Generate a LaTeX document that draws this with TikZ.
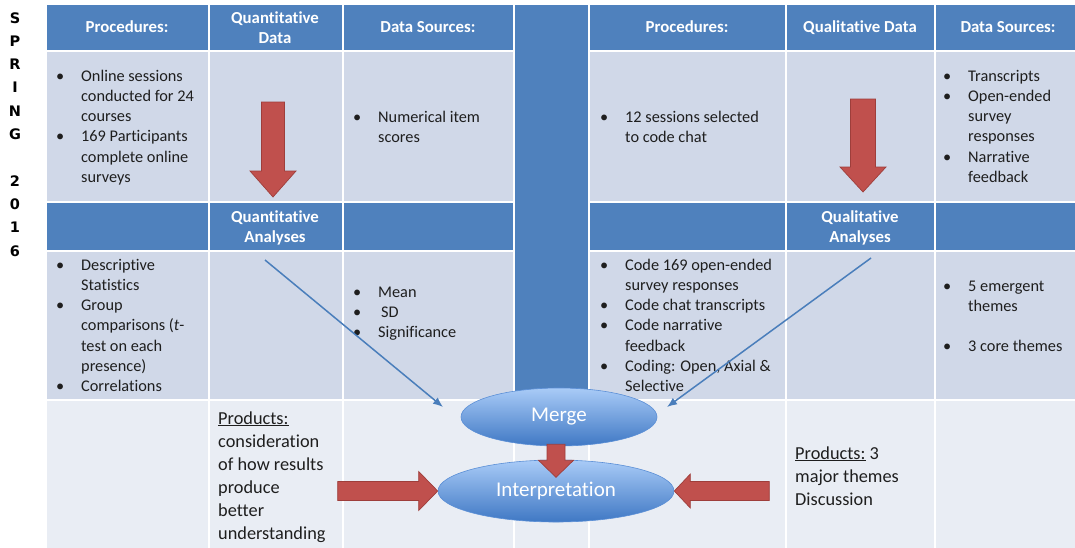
\documentclass[tikz,border=0pt]{standalone}
\usepackage{fontspec}
\setmainfont{Carlito}[Ligatures={NoCommon,NoRequired}]
\newfontfamily\sidefont{DejaVu Sans}[BoldFont={* Bold}]
\usetikzlibrary{shapes.geometric,arrows.meta}

\definecolor{hdrblue}{HTML}{4F81BD}
\definecolor{cellblue}{HTML}{D0D8E8}
\definecolor{paleblue}{HTML}{E9EDF4}
\definecolor{blockred}{HTML}{C0504D}
\definecolor{blockedge}{HTML}{9E3E3B}
\definecolor{ink}{HTML}{1E1E1E}
\definecolor{lineblue}{HTML}{4A7EBB}
\definecolor{ovaltop}{HTML}{A9CBF7}
\definecolor{ovalbot}{HTML}{3F78C4}
\definecolor{ovalrim}{HTML}{5B8FD6}

% bullet list: first column holds the bullet, second the text
\newcommand\bulletlist[2]{\begin{tabular}[t]{@{}p{#1}@{}l@{}}#2\end{tabular}}
\newcommand\itm{\textbullet &}
\newcommand\stacked[1]{\begin{tabular}[t]{@{}c@{}}#1\end{tabular}}
\newcommand\leftlines[1]{\begin{tabular}[t]{@{}l@{}}#1\end{tabular}}

% solid block arrows
\newcommand\blockdown[6]{% centre x, top, head base, tip, shaft half width, head half width
  \filldraw[redblock] (#1-#5,#2) -- (#1+#5,#2) -- (#1+#5,#3) -- (#1+#6,#3)
    -- (#1,#4) -- (#1-#6,#3) -- (#1-#5,#3) -- cycle;}
\newcommand\blockacross[6]{% centre y, tail x, head base x, tip x, shaft half width, head half width
  \filldraw[redblock] (#2,#1-#5) -- (#3,#1-#5) -- (#3,#1-#6) -- (#4,#1)
    -- (#3,#1+#6) -- (#3,#1+#5) -- (#2,#1+#5) -- cycle;}

\begin{document}
\begin{tikzpicture}[x=1pt,y=-1pt,
  gridcell/.style={draw=white,line width=1.4pt},
  redblock/.style={fill=blockred,draw=blockedge,line width=0.7pt,line join=miter},
  body/.style={font=\fontsize{16.3}{20.3}\selectfont,text=ink,inner sep=0pt,anchor=base west},
  head/.style={font=\fontsize{16.8}{20}\selectfont\bfseries,text=white,inner sep=0pt,anchor=base},
  prod/.style={font=\fontsize{18.3}{23}\selectfont,text=ink,inner sep=0pt,anchor=base west},
  side/.style={font=\fontsize{14.5}{23.3}\selectfont\sidefont\bfseries,text=black,inner sep=0pt,anchor=base},
  oval/.style={ellipse,top color=ovaltop,bottom color=ovalbot,draw=ovalrim,line width=0.6pt,
    inner sep=0pt,text=white,font=\fontsize{21}{25}\selectfont},
  flow/.style={draw=lineblue,line width=1.5pt,-{Latex[length=10pt,width=8pt]}}]

\useasboundingbox (0,0) rectangle (1075,547);
\fill[white] (0,0) rectangle (1075,547);

% table cells
\foreach \xa/\xb in {46/209,209/343,343/514,589/786,786/935,935/1090}{
  \filldraw[gridcell,fill=hdrblue]  (\xa,4)   rectangle (\xb,51);
  \filldraw[gridcell,fill=cellblue] (\xa,51)  rectangle (\xb,202);
  \filldraw[gridcell,fill=hdrblue]  (\xa,202) rectangle (\xb,251);
  \filldraw[gridcell,fill=cellblue] (\xa,251) rectangle (\xb,400);
  \filldraw[gridcell,fill=paleblue] (\xa,400) rectangle (\xb,560);
}
\filldraw[gridcell,fill=hdrblue]  (514,4)   rectangle (589,400);
\filldraw[gridcell,fill=paleblue] (514,400) rectangle (589,560);

% semester label
\node[side] (term) at (15,23) {\stacked{S\\P\\R\\I\\N\\G\\ \\2\\0\\1\\6}};

% header rows
\node[head] (hProcL) at (127,32) {Procedures:};
\node[head] (hQuanData) at (275,23) {\stacked{Quantitative\\Data}};
\node[head] (hSrcL) at (428,32) {Data Sources:};
\node[head] (hProcR) at (687,32) {Procedures:};
\node[head] (hQualData) at (860,32) {Qualitative Data};
\node[head] (hSrcR) at (1008,32) {Data Sources:};
\node[head] (hQuanAn) at (275,222) {\stacked{Quantitative\\Analyses}};
\node[head] (hQualAn) at (860,222) {\stacked{Qualitative\\Analyses}};

% data collection row
\node[body] (procL) at (56,81) {\bulletlist{25pt}{%
  \itm Online sessions\\ & conducted for 24\\ & courses\\
  \itm 169 Participants\\ & complete online\\ & surveys}};
\node[body] (srcL) at (353,122) {\bulletlist{25pt}{%
  \itm Numerical item\\ & scores}};
\node[body] (procR) at (600,122) {\bulletlist{25pt}{%
  \itm 12 sessions selected\\ & to code chat}};
\node[body] (srcR) at (943,81) {\bulletlist{25pt}{%
  \itm Transcripts\\ \itm Open-ended\\ & survey\\ & responses\\
  \itm Narrative\\ & feedback}};

% analysis row
\node[body] (anL) at (56,270) {\bulletlist{25pt}{%
  \itm Descriptive\\ & Statistics\\ \itm Group\\ & comparisons (\textit{t}-\\
  & test on each\\ & presence)\\ \itm Correlations}};
\node[body] (statL) at (353,297) {\bulletlist{25pt}{%
  \itm Mean\\ \itm \hspace{3pt}SD\\ \itm Significance}};
\node[body] (anR) at (600,270) {\bulletlist{25pt}{%
  \itm Code 169 open-ended\\ & survey responses\\ \itm Code chat transcripts\\
  \itm Code narrative\\ & feedback\\ \itm Coding: Open, Axial \&\\ & Selective}};
\node[body] (themesR) at (943,291) {\bulletlist{25pt}{%
  \itm 5 emergent\\ & themes\\ & \\ \itm 3 core themes}};

% products row
\node[prod] (prodL) at (218,424) {\leftlines{\underline{Products:}\\consideration\\of how results\\produce\\better\\understanding}};
\node[prod] (prodR) at (795,459) {\leftlines{\underline{Products:} 3\\major themes\\Discussion}};

% falling arrows inside the data columns
\blockdown{273}{102}{171}{197}{11.5}{23}
\blockdown{863}{99}{167}{192}{12.5}{23}

% merge and interpretation
\node[oval,minimum width=236pt,minimum height=62pt] (interp) at (556,491) {Interpretation};
\node[oval,minimum width=196pt,minimum height=58pt] (merge) at (559,417) {Merge};

\begin{scope}[shift={(merge.south)}]
  \blockdown{-3}{-2}{14}{31}{9}{17.5}
\end{scope}
\begin{scope}[shift={(interp.west)}]
  \blockacross{0}{-100}{-19}{0}{9.5}{19.5}
\end{scope}
\begin{scope}[shift={(interp.east)}]
  \blockacross{0}{95}{16}{0}{9.5}{17}
\end{scope}

% analysis results feeding the merge
\coordinate (quanStart) at (265,260);
\coordinate (quanEnd) at (443,407);
\coordinate (qualStart) at (871,258);
\coordinate (qualEnd) at (667,407);
\draw[flow] (quanStart) -- (quanEnd);
\draw[flow] (qualStart) -- (qualEnd);
\end{tikzpicture}
\end{document}
